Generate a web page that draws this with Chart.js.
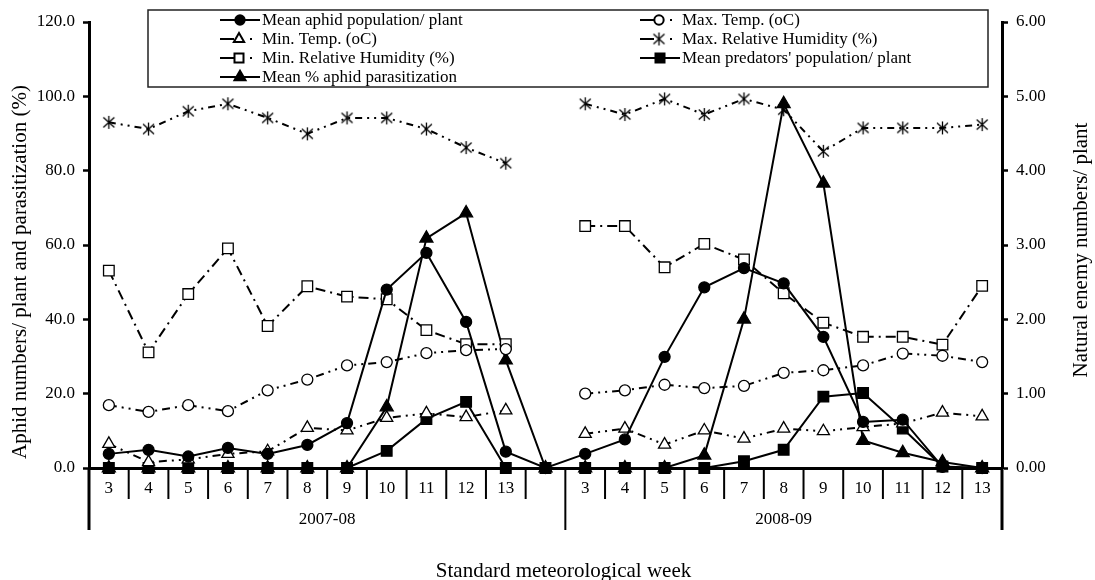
<!DOCTYPE html>
<html><head><meta charset="utf-8">
<script src="https://cdn.jsdelivr.net/npm/chart.js@4.4.0/dist/chart.umd.min.js"></script>
<style>html,body{margin:0;padding:0;background:#fff}#wrap{width:1095px;height:580px}</style>
</head><body><div id="wrap"><canvas id="c" width="1095" height="580"></canvas></div>
<script>
// ---- data ----
const weeks = ['3','4','5','6','7','8','9','10','11','12','13','','3','4','5','6','7','8','9','10','11','12','13'];
const seasons = ['2007-08','2008-09'];
const seasonSizes = [12, 11];
const aphidPop   = [3.8,4.9,3.1,5.4,3.8,6.2,12.1,48.0,57.9,39.3,4.4, 0, 3.8,7.7,29.9,48.6,53.8,49.7,35.3,12.4,13.0,0.3,0];
const maxTemp    = [16.9,15.1,16.9,15.3,20.9,23.8,27.6,28.5,30.9,31.7,32.0, null, 20.0,20.9,22.4,21.5,22.1,25.6,26.3,27.6,30.8,30.2,28.5];
const minTemp    = [6.5,1.6,2.3,3.8,4.5,10.8,10.1,13.5,14.7,13.7,15.5, null, 9.2,10.6,6.3,10.1,7.9,10.6,9.9,11.0,12.0,14.9,13.9];
const maxRH      = [93.0,91.2,96.0,98.0,94.2,89.9,94.2,94.2,91.2,86.2,82.0, null, 98.0,95.1,99.3,95.1,99.3,96.4,85.2,91.5,91.5,91.5,92.4];
const minRH      = [53.1,31.1,46.8,59.1,38.2,48.9,46.1,45.4,37.1,33.3,33.3, null, 65.1,65.1,54.0,60.3,56.1,47.0,39.1,35.3,35.3,33.2,49.0];
const predators  = [0,0,0,0,0,0,0,0.23,0.66,0.89,0, 0, 0,0,0,0,0.09,0.245,0.96,1.01,0.53,0.02,0];
const parasitism = [0,0,0,0,0,0,0,16.4,61.8,68.6,29.0, 0, 0,0,0,3.4,40.0,98.0,76.6,7.4,4.1,1.6,0];
const leftTicks  = {min:0, max:120, step:20, dec:1};
const rightTicks = {min:0, max:6, step:1, dec:2};

// ---- asterisk marker ----
function makeAsterisk(){
  const c = document.createElement('canvas'); c.width = 15; c.height = 15;
  const g = c.getContext('2d'); g.strokeStyle = '#000'; g.lineWidth = 1.3;
  g.beginPath();
  g.moveTo(2,2.5); g.lineTo(13,12.5);
  g.moveTo(13,2.5); g.lineTo(2,12.5);
  g.moveTo(7.5,1); g.lineTo(7.5,14);
  g.stroke();
  return c;
}
const asterisk = makeAsterisk();

const FONT = '"Liberation Serif", "Times New Roman", serif';
const BLK = '#000';

function ds(label, data, style, opts){
  return Object.assign({
    label, data, borderColor: BLK, borderWidth: 2, pointBorderColor: BLK,
    pointBorderWidth: 1.3, pointStyle: style, clip: false, tension: 0, yAxisID: 'y'
  }, opts);
}

const datasets = [
  ds('Mean aphid population/ plant', aphidPop, 'circle', {pointRadius:5.5, pointBackgroundColor:BLK, backgroundColor:BLK, borderDash:[]}),
  ds('Max. Temp. (oC)', maxTemp, 'circle', {pointRadius:5.5, pointBackgroundColor:'#fff', backgroundColor:'#fff', borderDash:[8,5,2,5,2,5]}),
  ds('Min. Temp. (oC)', minTemp, 'triangle', {pointRadius:7, pointBackgroundColor:'#fff', backgroundColor:'#fff', borderDash:[8,5,2,5,2,5]}),
  ds('Max. Relative Humidity (%)', maxRH, asterisk, {pointRadius:7, pointBackgroundColor:'#fff', backgroundColor:'#fff', borderDash:[7,5,2,5,2,5]}),
  ds('Min. Relative Humidity (%)', minRH, 'rect', {pointRadius:7.5, pointBackgroundColor:'#fff', backgroundColor:'#fff', borderDash:[10,5,2,5]}),
  ds("Mean predators' population/ plant", predators, 'rect', {pointRadius:7.5, pointBackgroundColor:BLK, backgroundColor:BLK, borderDash:[], yAxisID:'y1'}),
  ds('Mean % aphid parasitization', parasitism, 'triangle', {pointRadius:7.5, pointBackgroundColor:BLK, backgroundColor:BLK, borderDash:[]})
];

const decor = {
  id: 'decor',
  afterDraw(chart){
    const {ctx, chartArea:a, scales:{x}} = chart;
    const n = weeks.length;
    const half = (x.getPixelForValue(1) - x.getPixelForValue(0)) / 2;
    const bounds = [0]; let acc = 0; seasonSizes.forEach(s => { acc += s; bounds.push(acc); });
    ctx.save();
    ctx.strokeStyle = BLK;
    for (let i = 0; i <= n; i++){
      const px = i < n ? x.getPixelForValue(i) - half : x.getPixelForValue(n - 1) + half;
      const long = bounds.includes(i);
      ctx.lineWidth = (i === 0 || i === n) ? 3 : 2;
      ctx.beginPath(); ctx.moveTo(px, a.bottom); ctx.lineTo(px, a.bottom + (long ? 62 : 31)); ctx.stroke();
    }
    ctx.fillStyle = BLK;
    ctx.font = '17px ' + FONT; ctx.textAlign = 'center'; ctx.textBaseline = 'middle';
    seasons.forEach((s, k) => {
      const l = x.getPixelForValue(bounds[k]) - half;
      const r = x.getPixelForValue(bounds[k + 1] - 1) + half;
      ctx.fillText(s, (l + r) / 2, a.bottom + 52);
    });
    // axis titles
    ctx.font = '21px ' + FONT; ctx.textBaseline = 'alphabetic';
    ctx.fillText('Standard meteorological week', (a.left + a.right) / 2 + 18, 577);
    ctx.save(); ctx.translate(26, 272); ctx.rotate(-Math.PI / 2);
    ctx.fillText('Aphid numbers/ plant and parasitization (%)', 0, 0); ctx.restore();
    ctx.save(); ctx.translate(1087, 250); ctx.rotate(-Math.PI / 2);
    ctx.fillText('Natural enemy numbers/ plant', 0, 0); ctx.restore();
    // legend
    const L = {x0:148, y0:10, x1:988, y1:87, cols:[220, 640], rows:[20, 39, 58, 77]};
    ctx.lineWidth = 1.5; ctx.strokeStyle = '#222';
    ctx.strokeRect(L.x0, L.y0, L.x1 - L.x0, L.y1 - L.y0);
    ctx.font = '17px ' + FONT; ctx.textAlign = 'left'; ctx.textBaseline = 'middle';
    chart.data.datasets.forEach((d, i) => {
      const x0 = L.cols[i % 2], y = L.rows[Math.floor(i / 2)];
      const solid = !d.borderDash || d.borderDash.length === 0;
      ctx.strokeStyle = BLK; ctx.lineWidth = 2; ctx.setLineDash([]);
      ctx.beginPath();
      if (solid){ ctx.moveTo(x0, y); ctx.lineTo(x0 + 40, y); }
      else { ctx.moveTo(x0, y); ctx.lineTo(x0 + 14, y); }
      ctx.stroke();
      if (!solid){ ctx.fillStyle = BLK; ctx.fillRect(x0 + 30, y - 1, 2, 2); }
      const mx = solid ? x0 + 20 : x0 + 19;
      ctx.fillStyle = d.pointBackgroundColor; ctx.strokeStyle = BLK;
      Chart.helpers.drawPoint(ctx, {pointStyle: d.pointStyle, rotation: 0, radius: d.pointRadius * 0.85, borderWidth: 1.3}, mx, y);
      ctx.fillStyle = BLK;
      ctx.fillText(d.label, x0 + 42, y + 1);
    });
    ctx.restore();
  }
};

function yScale(t, pos, width){
  return {
    type: 'linear', position: pos, min: t.min, max: t.max,
    ticks: {stepSize: t.step, color: BLK, padding: 8, font: {family: FONT, size: 17},
      callback: v => Number(v).toFixed(t.dec)},
    grid: {display: true, drawOnChartArea: false, drawTicks: true, tickLength: 6, tickWidth: 2.5, color: BLK},
    border: {display: true, color: BLK, width: 3},
    afterFit(s){ s.width = width; }
  };
}

new Chart(document.getElementById('c'), {
  type: 'line',
  data: {labels: weeks, datasets},
  options: {
    responsive: false, animation: false, devicePixelRatio: 1,
    layout: {padding: {top: 22, left: 0, right: 0, bottom: 0}},
    plugins: {legend: {display: false}, tooltip: {enabled: false}},
    scales: {
      x: {
        type: 'category', offset: true,
        ticks: {color: BLK, padding: 10, autoSkip: false, maxRotation: 0, font: {family: FONT, size: 17}},
        grid: {display: false, drawTicks: false},
        border: {display: true, color: BLK, width: 3},
        afterFit(s){ s.height = 112; }
      },
      y: yScale(leftTicks, 'left', 89),
      y1: yScale(rightTicks, 'right', 93)
    }
  },
  plugins: [decor]
});
</script>
</body></html>
